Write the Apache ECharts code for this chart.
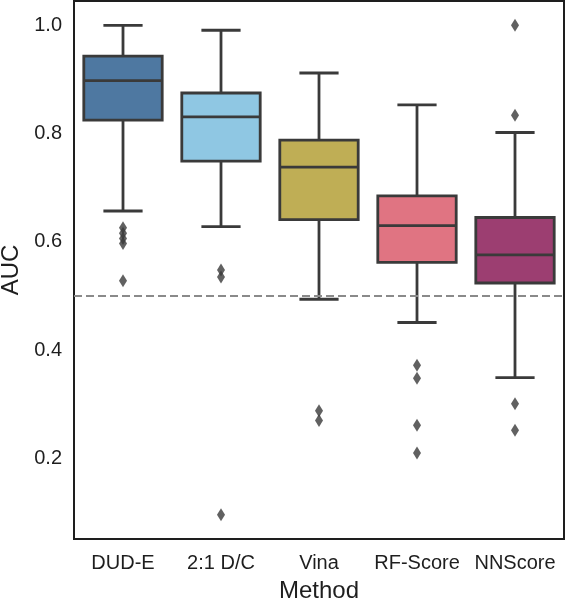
<!DOCTYPE html>
<html><head><meta charset="utf-8">
<script src="https://cdn.jsdelivr.net/npm/echarts@6/dist/echarts.min.js"></script>
<style>html,body{margin:0;padding:0;background:#fff}#c{width:567px;height:600px}</style>
</head><body><div id="c"></div>
<script>
const categories = ['DUD-E', '2:1 D/C', 'Vina', 'RF-Score', 'NNScore'];
// [lower whisker, Q1, median, Q3, upper whisker]
const boxStats = [
  [0.657, 0.825, 0.898, 0.943, 1.000],
  [0.628, 0.749, 0.831, 0.875, 0.991],
  [0.494, 0.641, 0.738, 0.788, 0.912],
  [0.451, 0.562, 0.630, 0.685, 0.853],
  [0.349, 0.524, 0.576, 0.645, 0.802]
];
const outliers = [
  [0, 0.626], [0, 0.616], [0, 0.606], [0, 0.597], [0, 0.528],
  [1, 0.548], [1, 0.535], [1, 0.096],
  [2, 0.288], [2, 0.270],
  [3, 0.372], [3, 0.348], [3, 0.261], [3, 0.210],
  [4, 1.000], [4, 0.834], [4, 0.301], [4, 0.252]
];
const colors = ['#4e78a1', '#8fc7e3', '#bfae55', '#e07482', '#9c3e71'];
const refLine = 0.5;

const edge = '#3a3a3a';
const textColor = '#1e1e1e';
const chart = echarts.init(document.getElementById('c'));
const boxData = boxStats.map((s, i) => [i].concat(s));

chart.setOption({
  animation: false,
  grid: { left: 74, right: 3, top: 1, bottom: 61, show: true, borderColor: '#1e1e1e', borderWidth: 2,
    backgroundColor: '#fff', containLabel: false, outerBoundsMode: 'none' },
  xAxis: {
    type: 'category', data: categories,
    axisLine: { show: false }, axisTick: { show: false },
    axisLabel: { color: textColor, fontSize: 20, fontFamily: 'Liberation Sans', margin: 14,
      interval: 0, hideOverlap: false },
    name: 'Method', nameLocation: 'middle', nameGap: 40,
    nameTextStyle: { color: textColor, fontSize: 24, fontFamily: 'Liberation Sans' }
  },
  yAxis: {
    type: 'value', min: 0.051, max: 1.045,
    axisLine: { show: false }, axisTick: { show: false }, splitLine: { show: false },
    axisLabel: {
      color: textColor, fontSize: 20, fontFamily: 'Liberation Sans', margin: 12,
      formatter: v => (Math.abs(v * 5 - Math.round(v * 5)) < 1e-6 ? v.toFixed(1) : '')
    },
    name: 'AUC', nameLocation: 'middle', nameGap: 48, nameRotate: 90,
    nameTextStyle: { color: textColor, fontSize: 24, fontFamily: 'Liberation Sans' }
  },
  series: [
    {
      type: 'custom',
      data: boxData,
      encode: { x: 0, y: [1, 2, 3, 4, 5] },
      z: 3,
      markLine: {
        silent: true, symbol: 'none', label: { show: false },
        lineStyle: { color: '#8a8a8a', width: 2, type: [8, 4] },
        data: [{ yAxis: refLine }]
      },
      renderItem: function (params, api) {
        const i = api.value(0);
        const bw = api.size([1, 0])[0] * 0.8;
        const cw = bw / 2;
        const pMin = api.coord([i, api.value(1)]);
        const pQ1 = api.coord([i, api.value(2)]);
        const pMed = api.coord([i, api.value(3)]);
        const pQ3 = api.coord([i, api.value(4)]);
        const pMax = api.coord([i, api.value(5)]);
        const x = pMed[0];
        const ls = { stroke: edge, lineWidth: 2.8 };
        return {
          type: 'group',
          children: [
            { type: 'line', shape: { x1: x, y1: pQ1[1], x2: x, y2: pMin[1] }, style: ls },
            { type: 'line', shape: { x1: x, y1: pQ3[1], x2: x, y2: pMax[1] }, style: ls },
            { type: 'line', shape: { x1: x - cw / 2, y1: pMin[1], x2: x + cw / 2, y2: pMin[1] }, style: ls },
            { type: 'line', shape: { x1: x - cw / 2, y1: pMax[1], x2: x + cw / 2, y2: pMax[1] }, style: ls },
            { type: 'rect', shape: { x: x - bw / 2, y: pQ3[1], width: bw, height: pQ1[1] - pQ3[1] },
              style: { fill: colors[i], stroke: edge, lineWidth: 2.8 } },
            { type: 'line', shape: { x1: x - bw / 2, y1: pMed[1], x2: x + bw / 2, y2: pMed[1] }, style: ls }
          ]
        };
      }
    },
    {
      type: 'scatter',
      data: outliers,
      symbol: 'diamond', symbolSize: [8, 13],
      itemStyle: { color: edge },
      z: 4
    }
  ]
});
</script></body></html>
